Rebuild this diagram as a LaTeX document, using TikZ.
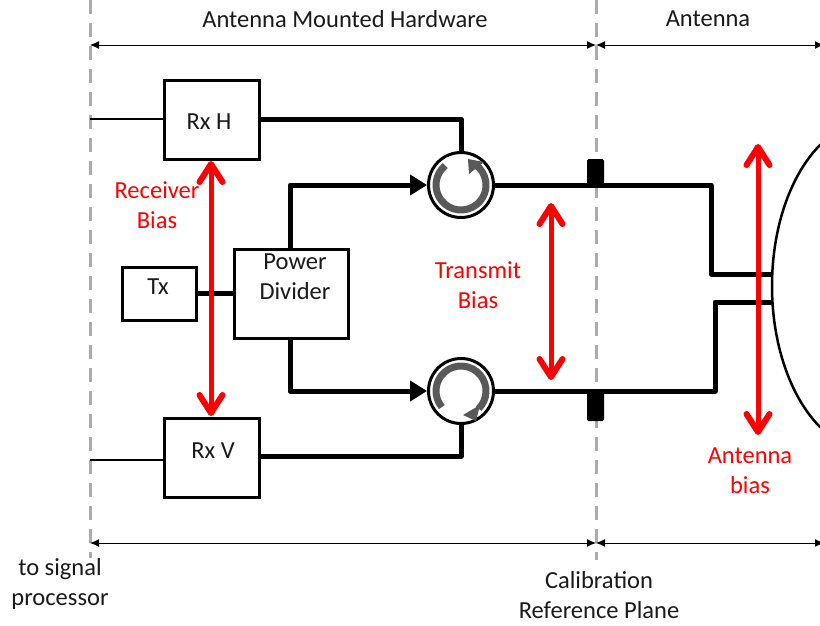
\documentclass[tikz,border=0pt]{standalone}
\usepackage{fontspec}
\setmainfont{Carlito}
\usetikzlibrary{arrows.meta,calc}
\definecolor{gdash}{HTML}{ABABAB}
\definecolor{garc}{HTML}{595959}
\definecolor{txt}{HTML}{1A1A1A}
\tikzset{
  box/.style={draw=black,line width=3pt,fill=white,inner sep=0pt,text=txt},
  heavy/.style={line width=5pt,line join=round},
  thinl/.style={line width=1.6pt},
  dim/.style={line width=1pt,{Latex[length=9pt,width=8pt]}-{Latex[length=9pt,width=8pt]}},
  plane/.style={draw=gdash,line width=3pt,dash pattern=on 14pt off 9pt},
  bias/.style={draw=red,line width=5pt,{Straight Barb[round,length=18pt,width=23pt,line width=6pt]}-{Straight Barb[round,length=18pt,width=23pt,line width=6pt]}},
  circ/.style={circle,draw=black,line width=3pt,fill=white,minimum size=65pt,inner sep=0pt},
  tab/.style={fill=black,rounded corners=1.5pt,inner sep=0pt,minimum width=17pt},
  lab/.style={font=\fontsize{24.5}{30}\selectfont,align=center,text=txt,inner sep=0pt},
  redlab/.style={lab,text=red},
  head/.style={-{Triangle[length=17pt,width=20pt]}},
}
\begin{document}
\begin{tikzpicture}[x=1pt,y=-1pt]
\useasboundingbox (0,0) rectangle (820,625);
\fill[white] (0,0) rectangle (820,625);
% reference planes
\coordinate (p1t) at (90,0); \coordinate (p1b) at (90,558);
\coordinate (p2t) at (596,0); \coordinate (p2b) at (596,560);
\draw[plane] (p1t) -- (p1b);
\draw[plane] (p2t) -- (p2b);
% dimension lines
\coordinate (d1) at (90,45); \coordinate (d2) at (596,45); \coordinate (d3) at (824,45);
\coordinate (e1) at (90,543); \coordinate (e2) at (596,543); \coordinate (e3) at (824,543);
\draw[dim] (d1) -- (d2);
\draw[dim] (d2) -- (d3);
\draw[dim] (e1) -- (e2);
\draw[dim] (e2) -- (e3);
% boxes
\node[box,minimum width=95pt,minimum height=79pt] (rxh) at (211.5,120) {};
\node[box,minimum width=95pt,minimum height=79pt] (rxv) at (211.5,457.5) {};
\node[box,minimum width=74pt,minimum height=53pt] (tx) at (159,293.5) {};
\node[box,minimum width=114pt,minimum height=89pt] (pd) at (291,293.5) {};
\node[circ] (c1) at (461,185) {};
\node[circ] (c2) at (461,391) {};
\node[tab,minimum height=26pt] (t1) at (595.5,172) {};
\node[tab,minimum height=30pt] (t2) at (595.5,406) {};
% signal lines
\coordinate (s1) at (90,119); \coordinate (s2) at (90,460);
\draw[thinl] (s1) -- (s1 -| rxh.west);
\draw[thinl] (s2) -- (s2 -| rxv.west);
% thick lines
\coordinate (ah1) at (772,274); \coordinate (ah2) at (772,302);
\coordinate (k1) at (711,185); \coordinate (k2) at (715,391);
\draw[heavy] (rxh.east |- s1) -| (c1.north);
\draw[heavy] ([yshift=1.5pt]rxv.east) -| (c2.south);
\draw[heavy] (tx.east) -- (pd.west);
\draw[heavy,head] (290,249) |- (c1.west);
\draw[heavy,head] (290,338) |- (c2.west);
\draw[heavy] (c1.east) -- (k1) |- (ah1);
\draw[heavy] (c2.east) -- (k2) |- (ah2);
% antenna
\begin{scope}
\clip (0,0) rectangle (820,625);
\draw[line width=2.5pt] (872,286) ellipse [x radius=100pt,y radius=165pt];
\end{scope}
% circulator arcs
\draw[garc,line width=7pt] (c1) ++(129:25pt) arc[start angle=129,delta angle=286,radius=25pt];
\fill[garc] ($(c1)+(8,-11)$) -- ($(c1)+(7,-26)$) -- ($(c1)+(23,-23)$) -- cycle;
\draw[garc,line width=7pt] (c2) ++(220:25pt) arc[start angle=220,delta angle=-265,radius=25pt];
\fill[garc] ($(c2)+(2,24)$) -- ($(c2)+(19,14)$) -- ($(c2)+(15,30)$) -- cycle;
% bias arrows
\coordinate (b1a) at (211,161); \coordinate (b1b) at (211,416);
\coordinate (b2a) at (551,203); \coordinate (b2b) at (551,380);
\coordinate (b3a) at (758,144); \coordinate (b3b) at (758,435);
\draw[bias] (b1a) -- (b1b);
\draw[bias] (b2a) -- (b2b);
\draw[bias] (b3a) -- (b3b);
% labels
\node[lab] (l1) at (345,19) {Antenna Mounted Hardware};
\node[lab] (l2) at (708,19) {Antenna};
\node[lab] (l3) at (209,122) {Rx H};
\node[lab] (l4) at (213,451) {Rx V};
\node[lab] (l5) at (158,287) {Tx};
\node[lab] (l6) at (295,277) {Power\\Divider};
\node[redlab] (l7) at (157,205) {Receiver\\Bias};
\node[redlab] (l8) at (478,285) {Transmit\\Bias};
\node[redlab] (l9) at (750,471) {Antenna\\bias};
\node[lab] (l10) at (60,584) {to signal\\processor};
\node[lab] (l11) at (599,595) {Calibration\\Reference Plane};
\end{tikzpicture}
\end{document}
